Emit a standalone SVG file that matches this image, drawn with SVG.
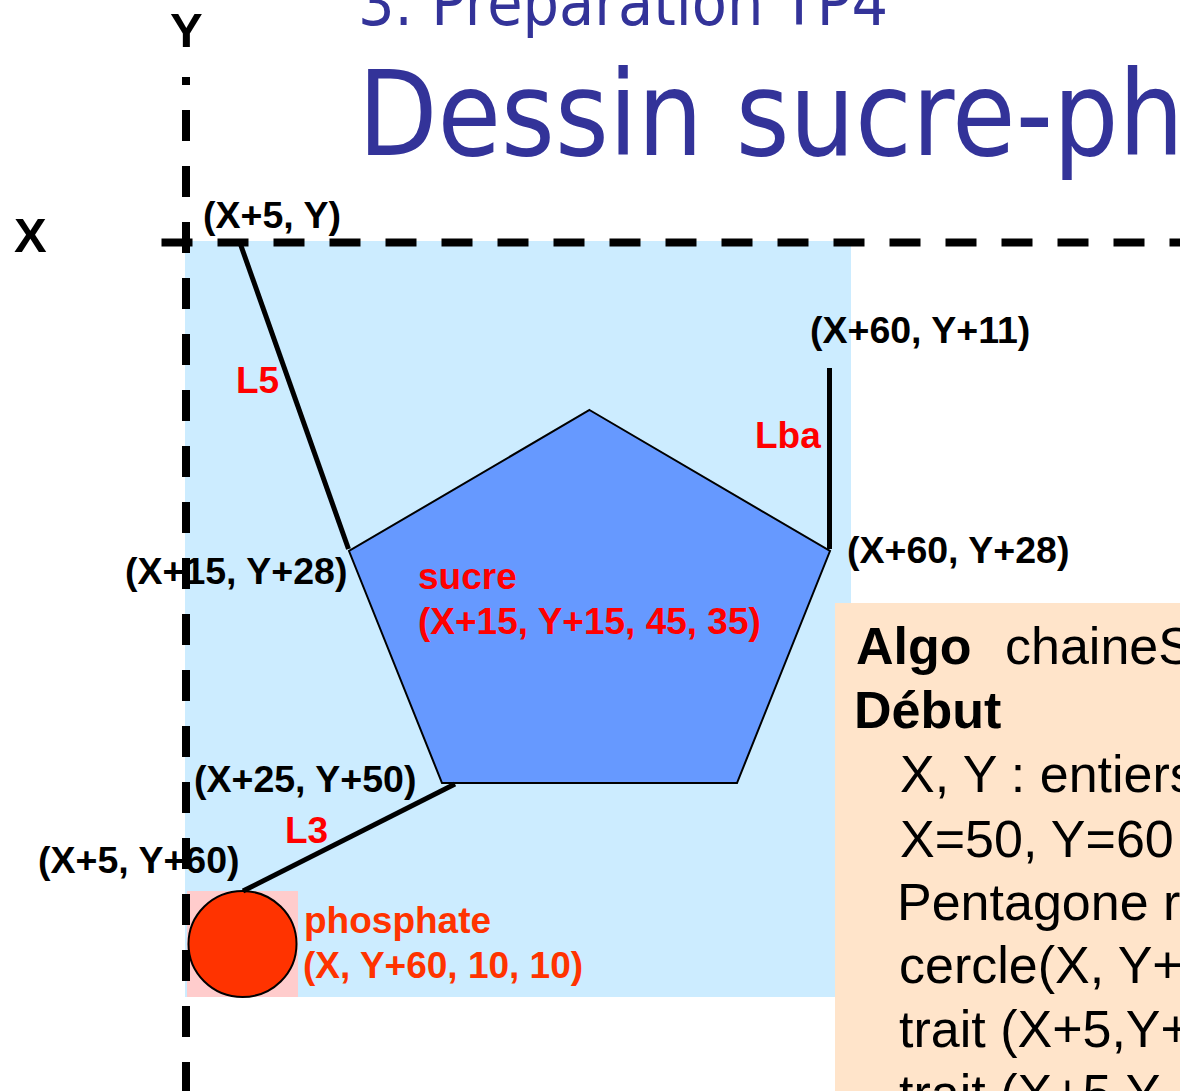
<svg xmlns="http://www.w3.org/2000/svg" width="1180" height="1091" viewBox="0 0 1180 1091">
<style>
.title{font-family:"DejaVu Sans","Verdana",sans-serif;fill:#333399}
.lbl{font-family:"Liberation Sans",Arial,sans-serif;font-weight:bold;font-size:37.5px;fill:#000}
.ax{font-family:"Liberation Sans",Arial,sans-serif;font-weight:bold;font-size:49px;fill:#000}
.red{font-family:"Liberation Sans",Arial,sans-serif;font-weight:bold;font-size:37px;fill:#FF0000}
.ora{font-family:"Liberation Sans",Arial,sans-serif;font-weight:bold;font-size:37px;fill:#FF3300}
.axis{stroke:#000;stroke-width:8;fill:none;stroke-dasharray:31 25}
.bond{stroke:#000;stroke-width:5;fill:none}
.algo{font-family:"Liberation Sans",Arial,sans-serif;font-size:52px;fill:#000}
</style>
<rect width="1180" height="1091" fill="#FFFFFF"/>
<g id="title">
<text class="title" x="358" y="25" font-size="64" textLength="530" lengthAdjust="spacingAndGlyphs">3. Préparation TP4</text>
<text class="title" x="358" y="155" font-size="117" textLength="826" lengthAdjust="spacingAndGlyphs">Dessin sucre-ph</text>
</g>
<g id="zone">
<rect x="185" y="241" width="666" height="756" fill="#CCECFF"/>
</g>
<g id="algo-box">
<rect x="835" y="603" width="360" height="500" fill="#FFE4CA"/>
<text class="algo" y="664"><tspan x="856" font-weight="bold">Algo </tspan><tspan x="1005">chaineS</tspan></text>
<text class="algo" x="854" y="728" font-weight="bold">Début</text>
<text class="algo" x="900" y="792">X, Y : entiers</text>
<text class="algo" x="900" y="857">X=50, Y=60</text>
<text class="algo" x="897" y="920">Pentagone r</text>
<text class="algo" x="899" y="983">cercle(X, Y+</text>
<text class="algo" x="899" y="1047">trait (X+5,Y+</text>
<text class="algo" x="899" y="1111">trait (X+5,Y</text>
</g>
<g id="sucre">
<polygon points="589.5,410 830,551 737,783 442,783 349,551" fill="#6699FF" stroke="#000" stroke-width="2"/>
<text class="red" x="418" y="589">sucre</text>
<text class="red" x="418" y="634">(X+15, Y+15, 45, 35)</text>
</g>
<g id="phosphate">
<rect x="187" y="891" width="111" height="106" fill="#FFCCCC"/>
<ellipse cx="242.5" cy="944" rx="54" ry="53" fill="#FF3300" stroke="#000" stroke-width="2"/>
<text class="ora" x="304" y="933">phosphate</text>
<text class="ora" x="303" y="978">(X, Y+60, 10, 10)</text>
</g>
<g id="connectors">
<line class="bond" x1="240" y1="243" x2="348.5" y2="549"/>
<line class="bond" x1="829.5" y1="368" x2="829.5" y2="549"/>
<line class="bond" x1="455" y1="784" x2="243" y2="891"/>
</g>
<g id="edge-labels">
<text class="red" x="236" y="393">L5</text>
<text class="red" x="755" y="448">Lba</text>
<text class="red" x="285" y="843">L3</text>
</g>
<g id="point-labels">
<text class="lbl" x="203" y="228">(X+5, Y)</text>
<text class="lbl" x="810" y="343">(X+60, Y+11)</text>
<text class="lbl" x="847" y="563">(X+60, Y+28)</text>
<text class="lbl" x="125" y="584">(X+15, Y+28)</text>
<text class="lbl" x="194" y="792">(X+25, Y+50)</text>
<text class="lbl" x="38" y="873">(X+5, Y+60)</text>
</g>
<g id="axes">
<line class="axis" x1="186" y1="77" x2="186" y2="1091" stroke-dashoffset="23"/>
<line class="axis" x1="161.5" y1="242.5" x2="1180" y2="242.5"/>
<text class="ax" x="14" y="252">X</text>
<text class="ax" x="170" y="47">Y</text>
</g>
</svg>
